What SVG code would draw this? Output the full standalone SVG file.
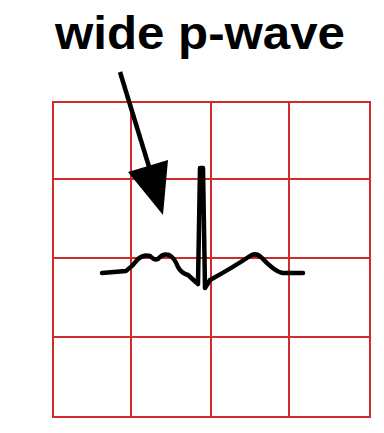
<svg xmlns="http://www.w3.org/2000/svg" width="384" height="433" viewBox="0 0 384 433">
<style>
.grid{stroke:#d02a2e;stroke-width:2;fill:none}
.wave{stroke:#000;stroke-width:4.5;fill:none;stroke-linejoin:round;stroke-linecap:round}
.lbl{font-family:"Liberation Sans",Arial,sans-serif;font-weight:bold;font-size:46px;fill:#000}
</style>
<rect width="384" height="433" fill="#fff"/>
<g id="grid">
<rect class="grid" x="53" y="102" width="317" height="315"/>
<line class="grid" x1="131" y1="102" x2="131" y2="417"/>
<line class="grid" x1="211" y1="102" x2="211" y2="417"/>
<line class="grid" x1="289" y1="102" x2="289" y2="417"/>
<line class="grid" x1="53" y1="179" x2="370" y2="179"/>
<line class="grid" x1="53" y1="258" x2="370" y2="258"/>
<line class="grid" x1="53" y1="337" x2="370" y2="337"/>
</g>
<g id="ecg">
<path class="wave" d="M102,273 L126,271 Q133,266 138,259 Q144,254 150,256 Q155,261 158,259 Q163,253 169,255 Q174,257 178,267 Q181,273 188,275 L198,284 L200,168 L203,168 L205,288 L210,280 Q232,268 250,256 Q256,252 262,258 Q275,272 283,273 L303,273"/>
</g>
<g id="label">
<text class="lbl" x="55" y="49" textLength="290" lengthAdjust="spacingAndGlyphs">wide p-wave</text>
</g>
<g id="connectors">
<line x1="120" y1="72" x2="150" y2="170" stroke="#000" stroke-width="4.5"/>
<polygon points="128,172 168,160 163,215" fill="#000"/>
</g>
</svg>
